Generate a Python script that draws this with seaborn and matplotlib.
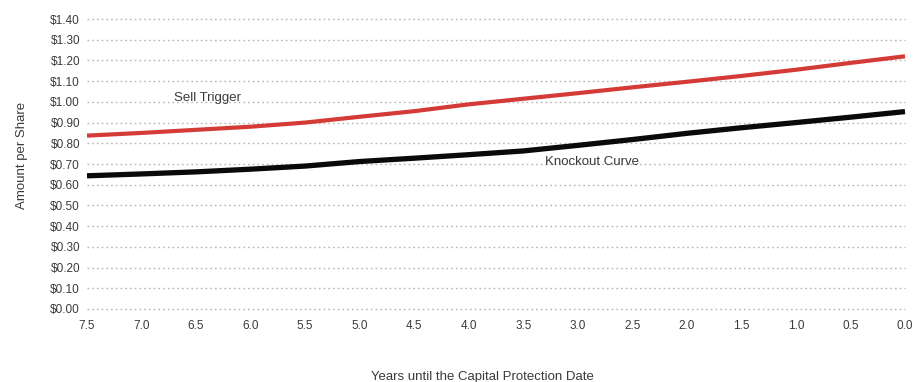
import matplotlib
matplotlib.use("Agg")
import matplotlib.pyplot as plt
import seaborn as sns
import pandas as pd

# Years remaining until the capital protection date
years = [7.5, 7.0, 6.5, 6.0, 5.5, 5.0, 4.5, 4.0, 3.5, 3.0, 2.5, 2.0, 1.5, 1.0, 0.5, 0.0]
# Amount per share for each curve
sell_trigger = [0.837, 0.850, 0.865, 0.880, 0.900, 0.928, 0.955, 0.988, 1.015, 1.042,
                1.070, 1.097, 1.125, 1.155, 1.188, 1.220]
knockout_curve = [0.643, 0.652, 0.662, 0.675, 0.690, 0.712, 0.728, 0.745, 0.763, 0.790,
                  0.818, 0.848, 0.875, 0.900, 0.926, 0.953]

y_ticks = [round(0.1 * i, 1) for i in range(15)]
x_ticks = [7.5, 7.0, 6.5, 6.0, 5.5, 5.0, 4.5, 4.0, 3.5, 3.0, 2.5, 2.0, 1.5, 1.0, 0.5, 0.0]

df = pd.DataFrame({
    "years": years * 2,
    "amount": sell_trigger + knockout_curve,
    "series": ["Sell Trigger"] * len(years) + ["Knockout Curve"] * len(years),
})

sns.set_style("white")
plt.rcParams["font.family"] = ["Liberation Sans Narrow", "Liberation Sans", "DejaVu Sans"]

fig = plt.figure(figsize=(9.16, 3.82), dpi=100)
ax = fig.add_axes([87 / 916, 1 - 309 / 382, 818 / 916, 290 / 382])

txt = "#3a3a3a"
for yv in y_ticks:
    ax.axhline(yv, color="#b5b5b5", lw=1.0, ls=(0, (1.2, 2.2)), zorder=1, clip_on=False)

sns.lineplot(data=df, x="years", y="amount", hue="series",
             palette={"Sell Trigger": "#d43b36", "Knockout Curve": "#0a0a0a"},
             ax=ax, legend=False, estimator=None, sort=False, zorder=3)
for line, lw in zip(ax.lines[-2:], [3.0, 3.8]):
    line.set_linewidth(lw)
    line.set_clip_on(False)
    line.set_solid_capstyle("butt")

ax.set_xlim(7.5, 0.0)
ax.set_ylim(0, 1.4)
ax.set_xticks(x_ticks)
ax.set_xticklabels([f"{v:.1f}" for v in x_ticks])
ax.set_yticks(y_ticks)
ax.set_yticklabels([f"${v:.2f}" for v in y_ticks])
ax.tick_params(axis="both", length=0, labelsize=8.5, colors=txt)
ax.tick_params(axis="x", pad=8)
ax.tick_params(axis="y", pad=5)
for s in ax.spines.values():
    s.set_visible(False)

ax.set_xlabel("Years until the Capital Protection Date", fontsize=9.5, color=txt)
ax.xaxis.set_label_coords(0.484, -0.215)
ax.set_ylabel("Amount per Share", fontsize=9.5, color=txt)
ax.yaxis.set_label_coords(-0.072, 0.53)

ax.text(6.7, 1.02, "Sell Trigger", fontsize=9.5, color=txt, ha="left", va="center")
ax.text(3.3, 0.71, "Knockout Curve", fontsize=9.5, color=txt, ha="left", va="center")

fig.savefig("out.png", dpi=100, facecolor="white")
